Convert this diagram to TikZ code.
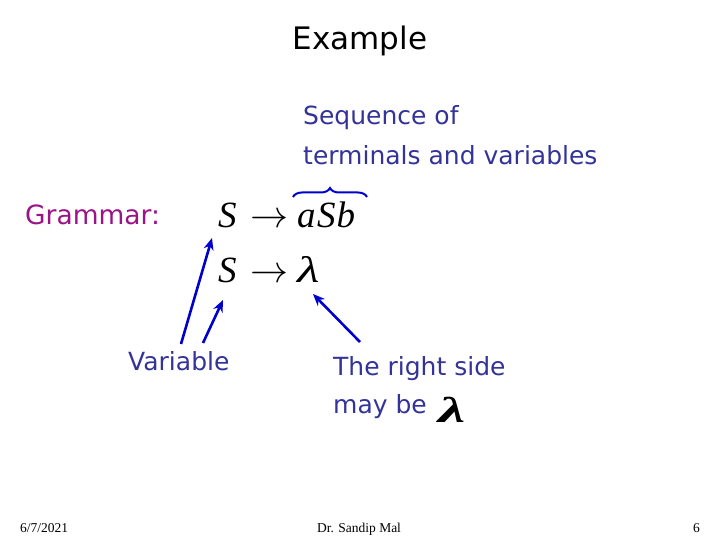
\documentclass[tikz,border=0pt]{standalone}
\usepackage{fontspec}
\usetikzlibrary{arrows.meta,decorations.pathreplacing}
\newfontfamily\comicf{DejaVu Sans}
\newfontfamily\timesf{Liberation Serif}
\definecolor{txtblue}{RGB}{51,51,153}
\definecolor{gramc}{RGB}{155,20,135}
\definecolor{arrblue}{RGB}{0,0,204}
\begin{document}
\begin{tikzpicture}[x=1pt,y=-1pt,
  lbl/.style={inner sep=0pt, anchor=base west, font=\comicf\fontsize{25}{30}\selectfont, text=txtblue},
  mth/.style={inner sep=0pt, anchor=base west, font=\timesf\itshape\fontsize{37}{42}\selectfont},
  arw/.style={inner sep=0pt, anchor=base west},
  foot/.style={inner sep=0pt, font=\timesf\fontsize{13.5}{16}\selectfont},
  ptr/.style={draw=arrblue, line width=2.6pt, -{Stealth[length=12pt,width=10pt]}},
]
\fill[white] (0,0) rectangle (720,540);
\useasboundingbox (0,0) rectangle (720,540);
% title
\node[inner sep=0pt, anchor=base, font=\comicf\fontsize{31}{36}\selectfont] (title) at (360,50) {Example};
% annotation
\node[lbl] (seq1) at (303,125) {Sequence of};
\node[lbl] (seq2) at (303,165) {terminals and variables};
\coordinate (bl) at (293,197);
\coordinate (br) at (367,197);
\draw[arrblue, line width=2pt, decorate, decoration={brace, amplitude=9pt}] (bl) -- (br);
% grammar
\node[lbl, text=gramc, font=\comicf\fontsize{26.5}{30}\selectfont] (gram) at (25,225) {Grammar:};
\node[mth] (S1) at (218,228) {S};
\node[arw] (ar1) at (250,228) {\scalebox{3.8}{$\rightarrow$}};
\node[mth] (rhs1) at (297,228) {a\kern1.5pt S\kern1pt b};
\node[mth] (S2) at (218,282) {S};
\node[arw] (ar2) at (250,282) {\scalebox{3.8}{$\rightarrow$}};
\node[mth] (lam) at (297,282) {\scalebox{1.4}[1]{λ}};
% bottom labels
\node[lbl] (var) at (128,370) {Variable};
\node[lbl] (rs1) at (333,375) {The right side};
\node[lbl] (rs2) at (333,413) {may be};
\node[mth, font=\timesf\bfseries\itshape\fontsize{36}{42}\selectfont] (lam2) at (438,422) {\scalebox{1.7}[1]{λ}};
% pointers
\coordinate (v1) at (181,344);
\coordinate (v2) at (203,343);
\coordinate (r1) at (360,342);
\draw[ptr] (v1) -- ([shift={(-6,10)}]S1.base west);
\draw[ptr] (v2) -- ([shift={(5,18)}]S2.base west);
\draw[ptr] (r1) -- ([shift={(16,12)}]lam.base west);
% footer
\node[foot, anchor=base west] (date) at (20,532) {6/7/2021};
\node[foot, anchor=base] (auth) at (359,532) {Dr. Sandip Mal};
\node[foot, anchor=base east] (page) at (700,532) {6};
\end{tikzpicture}
\end{document}
